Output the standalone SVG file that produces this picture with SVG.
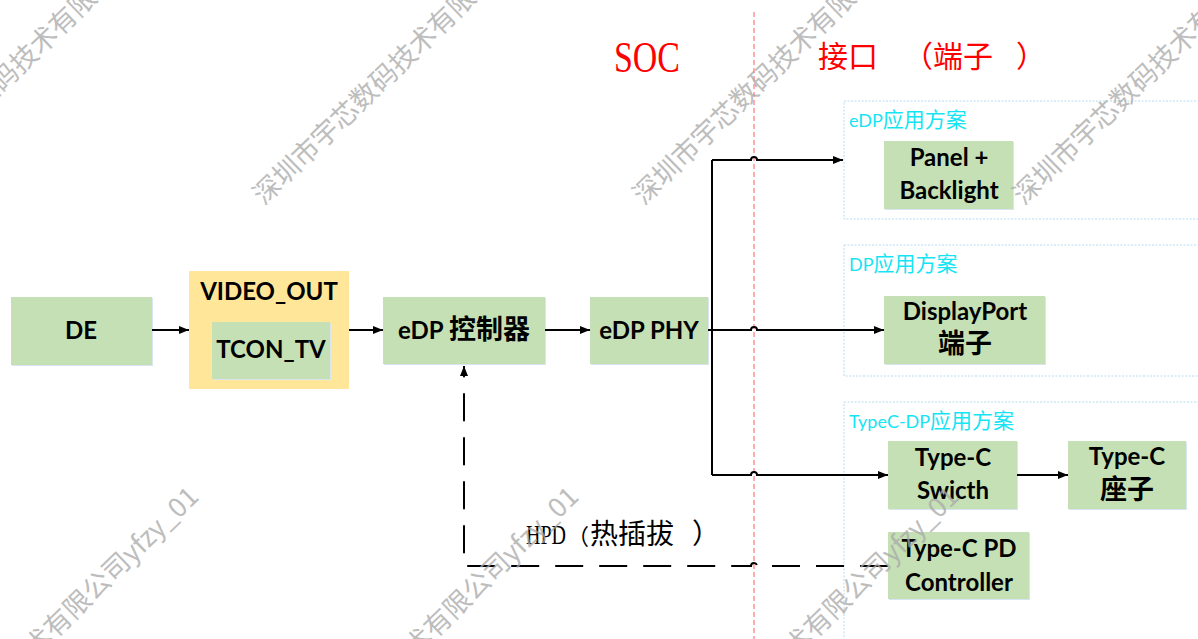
<svg xmlns="http://www.w3.org/2000/svg" width="1198" height="639" viewBox="0 0 1198 639">
<defs>
<style>
.node{fill:#C5E0B4;}
.shadow{fill:#D9E4F1;}
.yellow{fill:#FFE699;}
.nt{font-family:Lato,"Noto Sans CJK SC",sans-serif;font-weight:bold;font-size:24px;fill:#000;text-anchor:middle;}
.cjk{font-family:"Noto Sans CJK SC",sans-serif;font-size:27px;}
.grp{fill:none;stroke:#B4DCEF;stroke-width:1;stroke-dasharray:2 1.5;}
.gl{font-family:Lato,"Noto Sans CJK SC",sans-serif;font-size:18px;fill:#14E4F4;}
.gcjk{font-family:"Noto Sans CJK SC",sans-serif;font-size:21px;}
.ln{fill:none;stroke:#000;stroke-width:2;}
.dash{fill:none;stroke:#000;stroke-width:2;stroke-dasharray:28 16;}
.red{font-family:"Liberation Serif","Noto Sans CJK SC",serif;fill:#FF0000;}
.hpd{font-family:"Liberation Serif","Noto Sans CJK SC",serif;fill:#000;font-size:28px;}
.wm{font-family:"Noto Sans CJK SC",sans-serif;font-size:27px;fill:#A8A8A8;opacity:0.75;}
</style>
<marker id="ah" viewBox="0 0 10 8" refX="10" refY="4" markerWidth="10" markerHeight="8" markerUnits="userSpaceOnUse" orient="auto">
<path d="M0,0 L10,4 L0,8 z" fill="#000"/>
</marker>
</defs>
<rect width="1198" height="639" fill="#fff"/>

<!-- divider -->
<line x1="754" y1="12" x2="754" y2="639" stroke="#FF5A5A" stroke-width="1" stroke-dasharray="5 3"/>

<!-- titles -->
<text class="red" x="614" y="72" font-size="44" textLength="66" lengthAdjust="spacingAndGlyphs">SOC</text>
<text class="red" font-size="30" y="67"><tspan x="818">接口</tspan><tspan x="903">（</tspan><tspan x="933">端子</tspan><tspan x="1016">）</tspan></text>

<!-- groups -->
<g id="grp-edp">
<rect class="grp" x="844" y="101" width="400" height="118"/>
<text class="gl" x="849" y="127">eDP<tspan class="gcjk">应用方案</tspan></text>
</g>
<g id="grp-dp">
<rect class="grp" x="844" y="245" width="400" height="131"/>
<text class="gl" x="849" y="271">DP<tspan class="gcjk">应用方案</tspan></text>
</g>
<g id="grp-typec">
<rect class="grp" x="844" y="402" width="400" height="260"/>
<text class="gl" x="849" y="428">TypeC-DP<tspan class="gcjk">应用方案</tspan></text>
</g>

<!-- nodes -->
<g id="de">
<rect class="shadow" x="12" y="298" width="141" height="68"/>
<rect class="node" x="11" y="297" width="141" height="68"/>
<text class="nt" x="81" y="339">DE</text>
</g>
<g id="video-out">
<rect class="yellow" x="189" y="271" width="160" height="118"/>
<text class="nt" x="269" y="300">VIDEO_OUT</text>
<g id="tcon-tv">
<rect class="shadow" x="213" y="323" width="118" height="57"/>
<rect class="node" x="212" y="322" width="118" height="57"/>
<text class="nt" x="271" y="358">TCON_TV</text>
</g>
</g>
<g id="edp-ctrl">
<rect class="shadow" x="384" y="298" width="162" height="67"/>
<rect class="node" x="383" y="297" width="162" height="67"/>
<text class="nt" x="464" y="339">eDP <tspan class="cjk">控制器</tspan></text>
</g>
<g id="edp-phy">
<rect class="shadow" x="591" y="298" width="118" height="67"/>
<rect class="node" x="590" y="297" width="118" height="67"/>
<text class="nt" x="649" y="339">eDP PHY</text>
</g>
<g id="panel">
<rect class="shadow" x="885" y="142" width="129" height="68"/>
<rect class="node" x="884" y="141" width="129" height="68"/>
<text class="nt" x="949" y="166">Panel +</text>
<text class="nt" x="949" y="199">Backlight</text>
</g>
<g id="displayport">
<rect class="shadow" x="885" y="297" width="161" height="68"/>
<rect class="node" x="884" y="296" width="161" height="68"/>
<text class="nt" x="965" y="320">DisplayPort</text>
<text class="nt" x="965" y="353"><tspan class="cjk">端子</tspan></text>
</g>
<g id="typec-switch">
<rect class="shadow" x="889" y="442" width="129" height="68"/>
<rect class="node" x="888" y="441" width="129" height="68"/>
<text class="nt" x="953" y="466">Type-C</text>
<text class="nt" x="953" y="499">Swicth</text>
</g>
<g id="typec-socket">
<rect class="shadow" x="1069" y="442" width="118" height="68"/>
<rect class="node" x="1068" y="441" width="118" height="68"/>
<text class="nt" x="1127" y="465">Type-C</text>
<text class="nt" x="1127" y="499"><tspan class="cjk">座子</tspan></text>
</g>
<g id="typec-pd">
<rect class="shadow" x="889" y="533" width="141" height="67"/>
<rect class="node" x="888" y="532" width="141" height="67"/>
<text class="nt" x="959" y="557">Type-C PD</text>
<text class="nt" x="959" y="591">Controller</text>
</g>

<!-- connectors -->
<g id="connectors">
<path class="ln" d="M152,330 H189" marker-end="url(#ah)"/>
<path class="ln" d="M349,330 H383" marker-end="url(#ah)"/>
<path class="ln" d="M545,330 H590" marker-end="url(#ah)"/>
<path class="ln" d="M708,330 H751 a3,3 0 0 1 6,0 H884" marker-end="url(#ah)"/>
<path class="ln" d="M712,160 V475"/>
<path class="ln" d="M712,160 H751 a3,3 0 0 1 6,0 H843" marker-end="url(#ah)"/>
<path class="ln" d="M712,475 H751 a3,3 0 0 1 6,0 H888" marker-end="url(#ah)"/>
<path class="ln" d="M1017,475 H1068" marker-end="url(#ah)"/>
<path class="dash" d="M888,566 H757 a3,3 0 0 0 -6,0 H464 V366" marker-end="url(#ah)"/>
<text class="hpd" y="544"><tspan x="526" textLength="40" lengthAdjust="spacingAndGlyphs">HPD</tspan><tspan x="567" font-size="22">（</tspan><tspan x="590">热插拔</tspan><tspan x="692">）</tspan></text>
</g>

<!-- watermarks -->
<g id="watermarks">
<text class="wm" transform="translate(-115,206) rotate(-44)">深圳市宇芯数码技术有限公司yfzy_01</text>
<text class="wm" transform="translate(264,206) rotate(-44)">深圳市宇芯数码技术有限公司yfzy_01</text>
<text class="wm" transform="translate(644,206) rotate(-44)">深圳市宇芯数码技术有限公司yfzy_01</text>
<text class="wm" transform="translate(1024,206) rotate(-44)">深圳市宇芯数码技术有限公司yfzy_01</text>
<text class="wm" transform="translate(-120,808) rotate(-44)">深圳市宇芯数码技术有限公司yfzy_01</text>
<text class="wm" transform="translate(260,808) rotate(-44)">深圳市宇芯数码技术有限公司yfzy_01</text>
<text class="wm" transform="translate(640,808) rotate(-44)">深圳市宇芯数码技术有限公司yfzy_01</text>
</g>
</svg>
